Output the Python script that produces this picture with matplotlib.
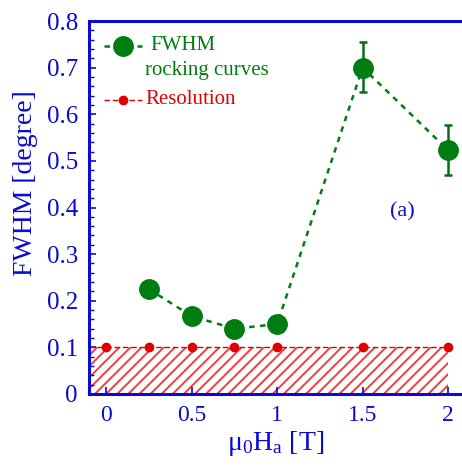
import matplotlib
matplotlib.use("Agg")
import matplotlib.pyplot as plt
from matplotlib.ticker import MultipleLocator, FuncFormatter

# Field values and measured rocking-curve widths
field = [0.25, 0.5, 0.75, 1.0, 1.5, 2.0]
fwhm = [0.225, 0.167, 0.140, 0.150, 0.700, 0.523]
fwhm_err_low = [0.0, 0.0, 0.0, 0.0, 0.052, 0.053]
fwhm_err_high = [0.0, 0.0, 0.0, 0.0, 0.054, 0.053]

# Instrumental resolution
res_field = [0.0, 0.25, 0.5, 0.75, 1.0, 1.5, 2.0]
res_value = [0.1, 0.1, 0.1, 0.1, 0.1, 0.1, 0.1]

y_ticks = [0, 0.1, 0.2, 0.3, 0.4, 0.5, 0.6, 0.7, 0.8]
x_ticks = [0, 0.5, 1, 1.5, 2]

BLUE = "#0a0ad2"
GREEN = "#007d12"
DKGREEN = "#0a6a1a"
RED = "#e00000"

plt.rcParams["font.family"] = ["Liberation Serif", "DejaVu Serif"]
plt.rcParams["mathtext.fontset"] = "custom"
plt.rcParams["mathtext.rm"] = "Liberation Serif"
plt.rcParams["mathtext.it"] = "Liberation Serif"
plt.rcParams["hatch.linewidth"] = 1.4

fig = plt.figure(figsize=(4.62, 4.68), dpi=100)
W, H = 462, 468
left_px, top_px, bottom_px = 89, 21, 394
ax = fig.add_axes([left_px / W, (H - bottom_px) / H, (W - left_px) / W, (bottom_px - top_px) / H])

ax.set_xlim(-0.1, 2.081)
ax.set_ylim(0, 0.8)

# Resolution band
ax.fill_between([-0.1, 2.0], 0, 0.1, facecolor="none", edgecolor="#ee4040",
                hatch="///", linewidth=0, zorder=1)
ax.plot([-0.1, 2.0], [0.1, 0.1], color=RED, lw=1.0, ls=(0, (4, 2)), zorder=2)
ax.plot(res_field, res_value, ls="none", marker="o", ms=6, color=RED,
        mec=RED, zorder=3)

# Rocking-curve widths
ax.plot(field, fwhm, color=GREEN, lw=1.8, ls=(0, (2.2, 2.2)), zorder=3)
ax.errorbar(field, fwhm, yerr=[fwhm_err_low, fwhm_err_high], fmt="none",
            ecolor=DKGREEN, elinewidth=1.8, capsize=3, capthick=1.8, zorder=4)
ax.plot(field, fwhm, ls="none", marker="o", ms=14, color=GREEN, mec=GREEN,
        zorder=5)

# Legend drawn by hand
tr = ax.transAxes
def ax_xy(px, py):
    return ((px - left_px) / (W - left_px), (bottom_px - py) / (bottom_px - top_px))

x0, _ = ax_xy(104, 0)
x1, _ = ax_xy(142, 0)
xm, y_g = ax_xy(123, 46)
_, y_r = ax_xy(0, 100)
ax.plot([x0, x1], [y_g, y_g], transform=tr, color=GREEN, lw=1.8,
        ls=(0, (2.2, 2.2)), clip_on=False)
ax.plot([xm], [y_g], transform=tr, marker="o", ms=14, color=GREEN, clip_on=False)
ax.plot([x0, x1], [y_r, y_r], transform=tr, color=RED, lw=1.0,
        ls=(0, (4, 2)), clip_on=False)
ax.plot([xm], [y_r], transform=tr, marker="o", ms=6, color=RED, clip_on=False)

tx, ty = ax_xy(150, 46)
ax.text(tx, ty, "FWHM", transform=tr, color=GREEN, fontsize=15, va="center", ha="left")
tx, ty = ax_xy(145, 70)
ax.text(tx, ty, "rocking curves", transform=tr, color=GREEN, fontsize=15, va="center", ha="left")
tx, ty = ax_xy(145, 100)
ax.text(tx, ty, "Resolution", transform=tr, color=RED, fontsize=15, va="center", ha="left")

ax.text(1.73, 0.39, "(a)", color=BLUE, fontsize=16, ha="center", va="center")

# Axes styling
for side in ("left", "bottom", "top"):
    ax.spines[side].set_color(BLUE)
    ax.spines[side].set_linewidth(2.2)
ax.spines["right"].set_visible(False)

ax.yaxis.set_minor_locator(MultipleLocator(0.02))
ax.set_yticks(y_ticks)
ax.set_xticks(x_ticks)
ax.yaxis.set_major_formatter(FuncFormatter(lambda v, p: "0" if abs(v) < 1e-9 else f"{v:.1f}"))
ax.xaxis.set_major_formatter(FuncFormatter(lambda v, p: "0" if abs(v) < 1e-9 else f"{v:g}"))

ax.tick_params(axis="both", which="major", direction="in", color=BLUE,
               labelcolor=BLUE, labelsize=18, width=1.2, length=5, pad=8)
ax.tick_params(axis="y", which="minor", direction="in", color=BLUE,
               width=1.0, length=3.5)
ax.tick_params(axis="x", which="major", pad=8, labelsize=17)
ax.tick_params(top=False, right=False)

ax.set_ylabel("FWHM [degree]", color=BLUE, fontsize=20)
ax.yaxis.set_label_coords(-0.137, 0.566)
ax.set_xlabel(r"$\mathrm{\mu_0H_a}$ [T]", color=BLUE, fontsize=20, labelpad=2)

fig.savefig("out.png", dpi=100)
